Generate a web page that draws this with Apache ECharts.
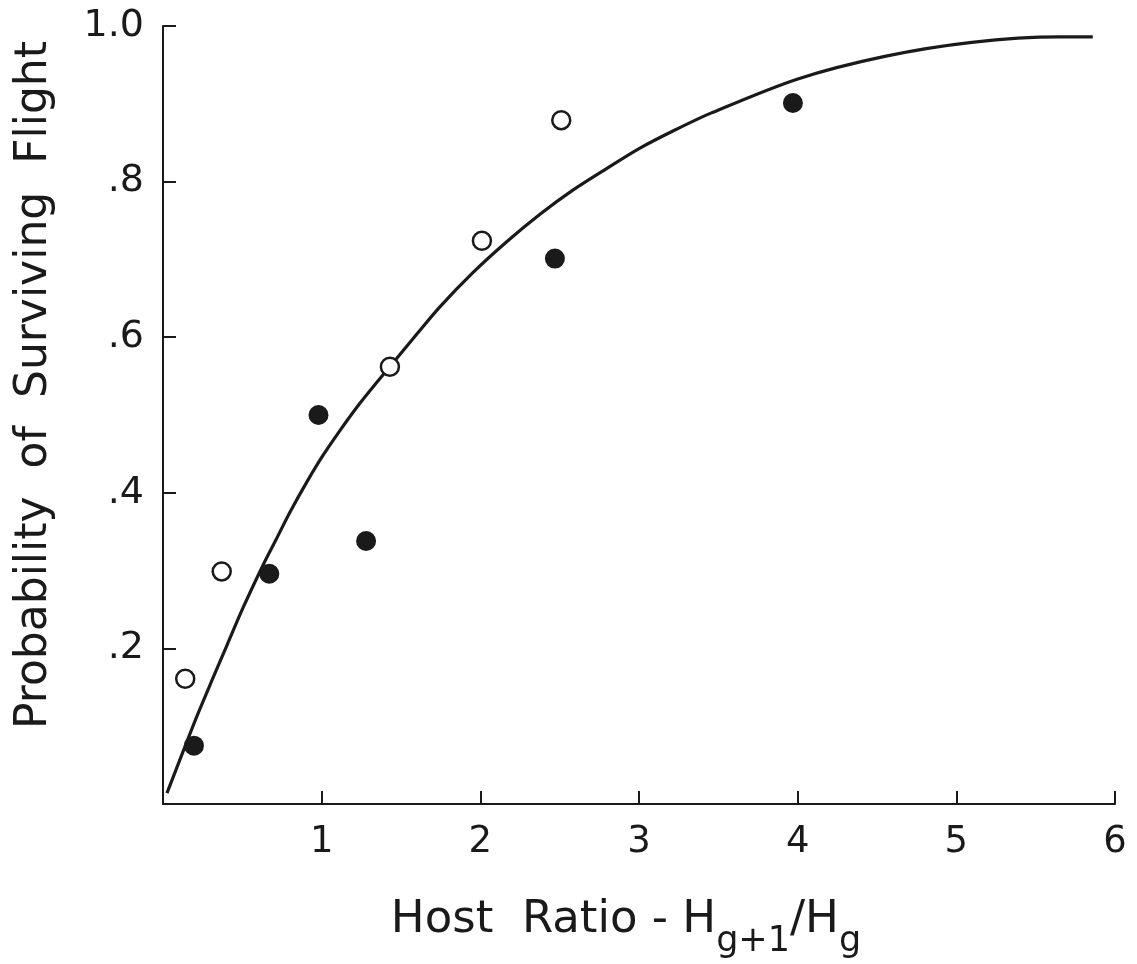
<!DOCTYPE html>
<html>
<head>
<meta charset="utf-8">
<script src="https://cdn.jsdelivr.net/npm/echarts@6/dist/echarts.min.js"></script>
<style>
html,body{margin:0;padding:0;background:#fff;}
#chart{width:1137px;height:964px;}
</style>
</head>
<body>
<div id="chart"></div>
<script>
// Tick labels
const xTickLabels = {1:'1',2:'2',3:'3',4:'4',5:'5',6:'6'};
const yTickLabels = {0.2:'.2',0.4:'.4',0.6:'.6',0.8:'.8',1:'1.0'};

// Open circles
const openX = [0.14, 0.37, 1.43, 2.01, 2.51];
const openY = [0.161, 0.299, 0.562, 0.724, 0.879];

// Filled circles
const filledX = [0.195, 0.67, 0.98, 1.28, 2.47, 3.97];
const filledY = [0.075, 0.296, 0.500, 0.338, 0.701, 0.901];

// Fitted curve
const curveX = [0.025, 0.139, 0.214, 0.315, 0.403, 0.504, 0.628, 0.713, 0.800, 0.907, 1.008, 1.115, 1.222, 1.348, 1.600, 1.745, 1.953, 2.168, 2.376, 2.583, 2.798, 3.006, 3.214, 3.453, 4.001, 4.549, 5.098, 5.646, 5.860];
const curveY = [0.014, 0.074, 0.113, 0.162, 0.204, 0.252, 0.306, 0.340, 0.375, 0.414, 0.448, 0.480, 0.510, 0.542, 0.604, 0.639, 0.683, 0.723, 0.758, 0.789, 0.817, 0.843, 0.865, 0.888, 0.932, 0.961, 0.979, 0.986, 0.986];

const zip = (a, b) => a.map((v, i) => [v, b[i]]);
const ink = '#1a1a1a';
const font = 'DejaVu Sans';

const chart = echarts.init(document.getElementById('chart'), null, {renderer: 'canvas'});
chart.setOption({
  animation: false,
  backgroundColor: '#fff',
  grid: {left: 163, right: 22, top: 26, bottom: 148, containLabel: false},
  xAxis: {
    type: 'value', min: 0, max: 6, interval: 1,
    axisLine: {show: true, onZero: false, lineStyle: {color: ink, width: 2}},
    axisTick: {show: true, inside: true, length: 13, lineStyle: {color: ink, width: 2}},
    splitLine: {show: false},
    axisLabel: {
      margin: 20, color: ink, fontFamily: font, fontSize: 37,
      formatter: v => xTickLabels[v] || ''
    },
    name: '{m|Host  Ratio - H}{s|g+1}{m|/H}{s|g}',
    nameLocation: 'middle', nameGap: 78,
    nameTextStyle: {
      padding: [0, 26, 0, 0],
      rich: {
        m: {fontFamily: font, fontSize: 45, color: ink},
        s: {fontFamily: font, fontSize: 35, color: ink, padding: [42, 0, 0, 0]}
      }
    }
  },
  yAxis: {
    type: 'value', min: 0, max: 1, interval: 0.2,
    axisLine: {show: true, onZero: false, lineStyle: {color: ink, width: 2}},
    axisTick: {show: true, inside: true, length: 13, lineStyle: {color: ink, width: 2}},
    splitLine: {show: false},
    axisLabel: {
      margin: 19, color: ink, fontFamily: font, fontSize: 38,
      formatter: v => yTickLabels[Math.round(v * 10) / 10] || ''
    },
    name: 'Probability  of  Surviving  Flight',
    nameLocation: 'middle', nameGap: 106,
    nameTextStyle: {fontFamily: font, fontSize: 44, color: ink, padding: [0, 0, 0, 60]}
  },
  series: [
    {
      type: 'line', data: zip(curveX, curveY), smooth: 0.3,
      showSymbol: false, symbol: 'none',
      lineStyle: {color: ink, width: 3.2}, z: 2
    },
    {
      type: 'scatter', data: zip(openX, openY), symbol: 'circle', symbolSize: 18,
      itemStyle: {color: '#fff', borderColor: ink, borderWidth: 2.5, opacity: 1}, z: 3
    },
    {
      type: 'scatter', data: zip(filledX, filledY), symbol: 'circle', symbolSize: 20,
      itemStyle: {color: ink, opacity: 1}, z: 3
    }
  ]
});
</script>
</body>
</html>
